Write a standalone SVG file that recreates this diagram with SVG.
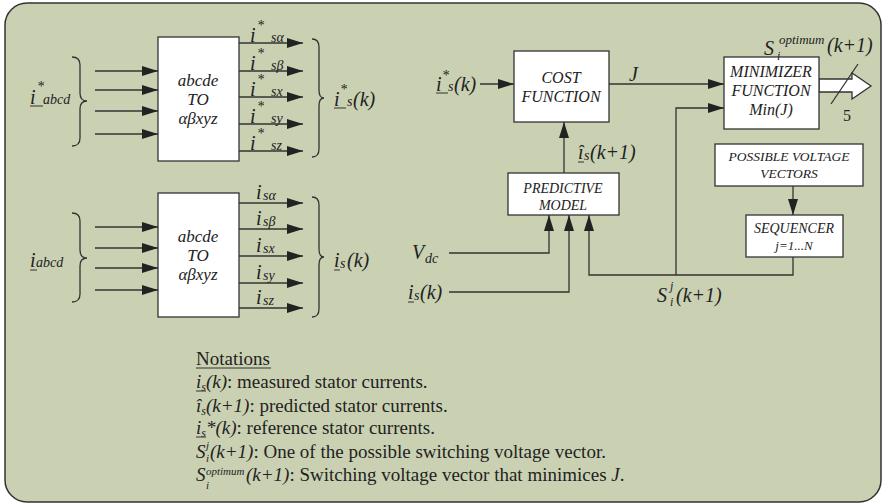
<svg xmlns="http://www.w3.org/2000/svg" width="883" height="504" viewBox="0 0 883 504">
<style>
text{font-family:"Liberation Serif","Times New Roman",serif;fill:#222}
.it{font-style:italic}
.box{fill:#fff;stroke:#333;stroke-width:1.3}
.ln{fill:none;stroke:#333;stroke-width:1.3}
.ar{fill:none;stroke:#333;stroke-width:1.3;marker-end:url(#ah)}
.ul{stroke:#333;stroke-width:1}
.bl{font-size:16px;font-style:italic;text-anchor:middle}
.sm{font-size:14px;font-style:italic;text-anchor:middle}
.lab{font-size:20px;font-style:italic}
.sub{font-size:14px;font-style:italic}
.not{font-size:19px}
.ns{font-size:11px;font-style:italic}
</style>
<defs>
<marker id="ah" markerUnits="userSpaceOnUse" markerWidth="17" markerHeight="11" refX="16" refY="5" orient="auto">
<path d="M0,0 L16,5 L0,10 z" fill="#222"/>
</marker>
</defs>
<rect x="5" y="3" width="876" height="499" rx="22" ry="22" fill="#cad1b2" stroke="#333" stroke-width="1.5"/>

<g id="connectors">
<path class="ar" d="M95,71 H158"/>
<path class="ar" d="M95,90 H158"/>
<path class="ar" d="M95,111 H158"/>
<path class="ar" d="M95,134 H158"/>
<path class="ar" d="M239,43 H303"/>
<path class="ar" d="M239,71 H303"/>
<path class="ar" d="M239,97 H303"/>
<path class="ar" d="M239,124 H303"/>
<path class="ar" d="M239,151 H303"/>
<path class="ar" d="M95,227 H158"/>
<path class="ar" d="M95,248 H158"/>
<path class="ar" d="M95,268 H158"/>
<path class="ar" d="M95,290 H158"/>
<path class="ar" d="M239,203 H303"/>
<path class="ar" d="M239,229 H303"/>
<path class="ar" d="M239,256 H303"/>
<path class="ar" d="M239,283 H303"/>
<path class="ar" d="M239,308 H303"/>
<path class="ar" d="M480,84 H514"/>
<path class="ar" d="M609,84 H724"/>
<path class="ar" d="M564,173 V122"/>
<path class="ar" d="M449,253 H549 V215"/>
<path class="ar" d="M449,292 H569 V215"/>
<path class="ar" d="M793,257 V275 H589 V215"/>
<path class="ar" d="M676,275 V108 H724"/>
<path class="ar" d="M793,186 V215"/>
<path class="ln" d="M72,57 Q80,57 80,65 V93 Q80,101 87,101 Q80,101 80,109 V138 Q80,146 72,146"/>
<path class="ln" d="M312,39 Q319,39 319,47 V90 Q319,98 324,98 Q319,98 319,106 V149 Q319,157 312,157"/>
<path class="ln" d="M72,213 Q80,213 80,221 V250 Q80,258 87,258 Q80,258 80,266 V294 Q80,302 72,302"/>
<path class="ln" d="M312,197 Q319,197 319,205 V249 Q319,257 324,257 Q319,257 319,265 V309 Q319,317 312,317"/>
<path d="M819,79 H852 V73 L871,86 L852,99 V92 H819 z" fill="#fff" stroke="#333" stroke-width="1.3"/>
<path class="ln" d="M831,104 L858,64"/>
</g>

<g id="transform-ref">
<rect class="box" x="158" y="37" width="81" height="124"/>
<text class="bl" x="198" y="86" style="font-size:17px">abcde</text>
<text class="bl" x="198" y="105" style="font-size:17px">TO</text>
<text class="bl" x="198" y="124" style="font-size:17px">αβxyz</text>
</g>
<g id="transform-meas">
<rect class="box" x="158" y="193" width="81" height="124"/>
<text class="bl" x="198" y="242" style="font-size:17px">abcde</text>
<text class="bl" x="198" y="261" style="font-size:17px">TO</text>
<text class="bl" x="198" y="280" style="font-size:17px">αβxyz</text>
</g>
<g id="cost-function">
<rect class="box" x="514" y="51" width="95" height="71"/>
<text class="bl" x="561" y="83">COST</text>
<text class="bl" x="561" y="102">FUNCTION</text>
</g>
<g id="minimizer">
<rect class="box" x="724" y="57" width="95" height="72"/>
<text class="bl" x="771" y="77">MINIMIZER</text>
<text class="bl" x="771" y="96">FUNCTION</text>
<text class="bl" x="771" y="115">Min(J)</text>
</g>
<g id="predictive-model">
<rect class="box" x="508" y="173" width="111" height="42"/>
<text class="sm" x="563" y="193">PREDICTIVE</text>
<text class="sm" x="563" y="210">MODEL</text>
</g>
<g id="possible-vectors">
<rect class="box" x="715" y="144" width="148" height="42"/>
<text class="sm" x="789" y="161" style="font-size:13.5px">POSSIBLE VOLTAGE</text>
<text class="sm" x="789" y="178" style="font-size:13.5px">VECTORS</text>
</g>
<g id="sequencer">
<rect class="box" x="746" y="215" width="97" height="42"/>
<text class="sm" x="794" y="233">SEQUENCER</text>
<text class="sm" x="794" y="250" style="font-size:13px">j=1...N</text>
</g>

<g id="labels">
<text class="lab" x="30" y="104">i</text>
<text class="sub" x="37" y="91">*</text>
<text class="sub" x="43" y="104">abcd</text>
<line class="ul" x1="30" y1="106" x2="43" y2="106"/>
<text class="lab" x="250" y="42">i</text><text class="sub" x="257" y="30">*</text><text class="sub" x="271" y="42">sα</text>
<text class="lab" x="250" y="70">i</text><text class="sub" x="257" y="58">*</text><text class="sub" x="271" y="70">sβ</text>
<text class="lab" x="250" y="96">i</text><text class="sub" x="257" y="84">*</text><text class="sub" x="271" y="96">sx</text>
<text class="lab" x="250" y="123">i</text><text class="sub" x="257" y="111">*</text><text class="sub" x="271" y="123">sy</text>
<text class="lab" x="250" y="150">i</text><text class="sub" x="257" y="138">*</text><text class="sub" x="271" y="150">sz</text>
<text class="lab" x="334" y="106">i</text><text class="sub" x="340" y="94">*</text><text class="sub" x="347" y="106">s</text><text class="lab" x="353" y="106">(k)</text>
<line class="ul" x1="334" y1="108" x2="346" y2="108"/>
<text class="lab" x="30" y="267">i</text>
<text class="sub" x="36" y="267">abcd</text>
<line class="ul" x1="30" y1="270" x2="37" y2="270"/>
<text class="lab" x="256" y="199">i</text><text class="sub" x="263" y="200">sα</text>
<text class="lab" x="256" y="225">i</text><text class="sub" x="263" y="226">sβ</text>
<text class="lab" x="256" y="252">i</text><text class="sub" x="263" y="253">sx</text>
<text class="lab" x="256" y="279">i</text><text class="sub" x="263" y="280">sy</text>
<text class="lab" x="256" y="304">i</text><text class="sub" x="263" y="305">sz</text>
<text class="lab" x="334" y="267">i</text><text class="sub" x="340" y="268">s</text><text class="lab" x="347" y="267">(k)</text>
<line class="ul" x1="334" y1="270" x2="340" y2="270"/>
<text class="lab" x="436" y="91">i</text><text class="sub" x="442" y="80">*</text><text class="sub" x="448" y="91">s</text><text class="lab" x="454" y="91">(k)</text>
<line class="ul" x1="436" y1="93" x2="448" y2="93"/>
<text class="lab" x="629" y="81">J</text>
<text class="lab" x="578" y="159">î</text><text class="sub" x="584" y="160">s</text><text class="lab" x="590" y="159">(k+1)</text>
<line class="ul" x1="578" y1="162" x2="584" y2="162"/>
<text class="lab" x="412" y="259">V</text><text class="sub" x="425" y="263">dc</text>
<text class="lab" x="408" y="299">i</text><text class="sub" x="414" y="300">s</text><text class="lab" x="420" y="299">(k)</text>
<line class="ul" x1="408" y1="302" x2="414" y2="302"/>
<text class="lab" x="657" y="302">S</text><text class="sub" x="670" y="290" style="font-size:12px">j</text><text class="sub" x="670" y="306" style="font-size:12px">i</text><text class="lab" x="676" y="302">(k+1)</text>
<text class="lab" x="764" y="55">S</text><text class="sub" x="779" y="44" style="font-size:13px">optimum</text><text class="sub" x="777" y="60" style="font-size:12px">i</text><text class="lab" x="827" y="52">(k+1)</text>
<text x="843" y="121" style="font-size:16px">5</text>
</g>

<g id="notations">
<text class="not" x="196" y="365">Notations</text>
<line class="ul" x1="196" y1="368" x2="271" y2="368"/>
<text class="not" x="196" y="388"><tspan class="it">i</tspan><tspan class="it" font-size="12" dy="3">s</tspan><tspan class="it" dy="-3">(k)</tspan>: measured stator currents.</text>
<line class="ul" x1="196" y1="391" x2="206" y2="391"/>
<text class="not" x="196" y="412"><tspan class="it">î</tspan><tspan class="it" font-size="12" dy="3">s</tspan><tspan class="it" dy="-3">(k+1)</tspan>: predicted stator currents.</text>
<text class="not" x="196" y="434"><tspan class="it">i</tspan><tspan class="it" font-size="12" dy="3">s</tspan><tspan class="it" dy="-3">*(k)</tspan>: reference stator currents.</text>
<line class="ul" x1="196" y1="437" x2="206" y2="437"/>
<text class="not it" x="196" y="458">S</text>
<text class="ns" x="206" y="449">j</text>
<text class="ns" x="206" y="462">i</text>
<text class="not" x="210" y="458"><tspan class="it">(k+1)</tspan>: One of the possible switching voltage vector.</text>
<text class="not it" x="196" y="481">S</text>
<text class="ns" x="206" y="475">optimum</text>
<text class="ns" x="206" y="489">i</text>
<text class="not" x="246" y="481"><tspan class="it">(k+1)</tspan>: Switching voltage vector that minimices <tspan class="it">J</tspan>.</text>
</g>
</svg>
